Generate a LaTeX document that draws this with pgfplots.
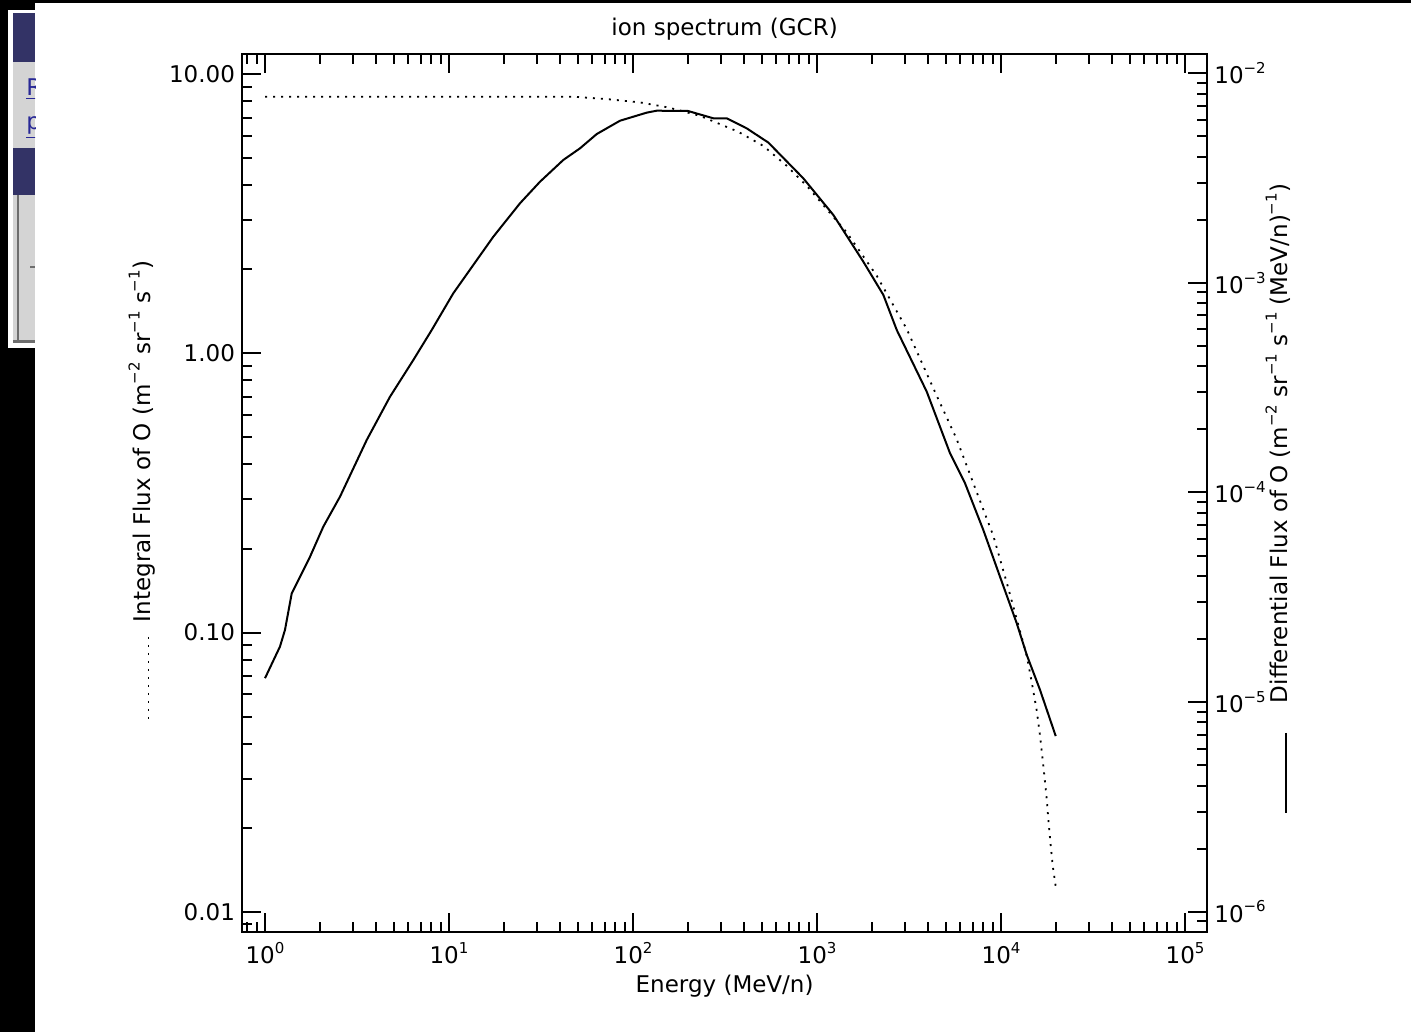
\documentclass[border=0pt]{standalone}
\usepackage{pgfplots}
\pgfplotsset{compat=1.18}
\usepackage{fontspec}
\setmainfont{DejaVu Sans}
\newcommand\sups[1]{\raisebox{0.45em}{\fontsize{7.5}{8}\selectfont #1}}
\definecolor{navy}{RGB}{51,51,102}
\definecolor{panel}{RGB}{212,212,212}
\definecolor{paneldark}{RGB}{110,110,110}
\definecolor{linkblue}{RGB}{40,40,150}

\pgfplotstableread{
E I
1 8.31
47.2 8.31
71.9 8.15
109 7.93
155 7.61
231 7.10
372 6.23
510 5.54
684 4.70
878 3.99
1449 2.714
2112 1.897
3073 1.222
4472 0.705
5741 0.493
7379 0.318
9082 0.222
10740 0.151
12170 0.1117
13795 0.0825
14690 0.0663
15640 0.0524
16290 0.0427
16980 0.0333
17720 0.0253
18070 0.02145
18620 0.01721
19100 0.01459
19820 0.01231
}\integral

\pgfplotstableread{
E D
1 1.30e-5
1.206 1.84e-5
1.284 2.21e-5
1.397 3.30e-5
1.757 4.94e-5
2.074 6.87e-5
2.556 9.55e-5
3.571 1.780e-4
4.779 2.864e-4
6.397 4.285e-4
8.054 5.96e-4
10.55 8.92e-4
13.55 1.217e-3
17.41 1.661e-3
24.32 2.399e-3
31.24 3.04e-3
41.8 3.86e-3
51.5 4.385e-3
63.5 5.13e-3
85.0 5.94e-3
118.7 6.49e-3
134.5 6.63e-3
199 6.61e-3
273 6.10e-3
323 6.10e-3
415 5.46e-3
544 4.67e-3
842 3.155e-3
1226 2.11e-3
1785 1.262e-3
2293 8.76e-4
2712 5.96e-4
3945 3.03e-4
5283 1.538e-4
6374 1.106e-4
8012 6.62e-5
9876 3.96e-5
12170 2.377e-5
13795 1.679e-5
16290 1.143e-5
19820 6.89e-6
}\differential

\begin{document}
\begin{tikzpicture}[x=0.5pt,y=0.5pt,font=\fontsize{11.5}{13.8}\selectfont]
\useasboundingbox (0,0) rectangle (1411,1032);
% screenshot surroundings
\fill[black] (0,0) rectangle (1411,1032);
\fill[white] (35,0) rectangle (1411,1029);
\fill[white] (8,684) rectangle (35,1022);
\fill[panel] (13,689) rectangle (35,1019);
\fill[navy] (13,970) rectangle (35,1019);
\fill[navy] (13,837) rectangle (35,884);
\fill[paneldark] (13,689) rectangle (35,692);
\fill[paneldark] (17,692) rectangle (19,837);
\begin{scope}
\clip (13,689) rectangle (35,1019);
\node[anchor=base west, text=linkblue, inner sep=0pt] at (26,936) {\underline{R}};
\node[anchor=base west, text=linkblue, inner sep=0pt] at (26,902) {\underline{p}};
\draw[paneldark, line width=0.8pt] (30,765) -- (35,765);
\end{scope}

\begin{axis}[
  at={(121pt,50pt)}, anchor=south west, scale only axis,
  width=482.65pt, height=439pt,
  xmode=log, ymode=log, log basis x=10, log basis y=10,
  xmin=0.75, xmax=1.3213e5, ymin=0.008459, ymax=11.82,
  axis line style={line width=1pt},
  tick style={line width=1pt, black},
  major tick length=9.5pt, minor tick length=5pt,
  tick align=inside,
  xtick={1,10,100,1000,10000,100000},
  xticklabels={10\sups{0},10\sups{1},10\sups{2},10\sups{3},10\sups{4},10\sups{5}},
  minor xtick={0.8,0.9,2,3,4,5,6,7,8,9,20,30,40,50,60,70,80,90,200,300,400,500,600,700,800,900,2000,3000,4000,5000,6000,7000,8000,9000,20000,30000,40000,50000,60000,70000,80000,90000},
  ytick={0.01,0.1,1,10}, yticklabels={0.01,0.10,1.00,10.00},
  minor ytick={0.009,0.02,0.03,0.04,0.05,0.06,0.07,0.08,0.09,0.2,0.3,0.4,0.5,0.6,0.7,0.8,0.9,2,3,4,5,6,7,8,9},
  xtick pos=both, ytick pos=left,
  xticklabel pos=bottom,
  xticklabel style={yshift=-1.5pt},
]
\addplot[black, line width=0.9pt, dash pattern=on 1pt off 3pt] table[x=E,y=I] {\integral};
\end{axis}

\begin{axis}[
  at={(121pt,50pt)}, anchor=south west, scale only axis,
  width=482.65pt, height=439pt,
  xmode=log, ymode=log, log basis x=10, log basis y=10,
  xmin=0.75, xmax=1.3213e5, ymin=8.0e-7, ymax=0.01236,
  hide x axis,
  axis line style={line width=1pt},
  tick style={line width=1pt, black},
  major tick length=9.5pt, minor tick length=5pt,
  tick align=inside,
  ytick={1e-6,1e-5,1e-4,1e-3,1e-2},
  yticklabels={10\sups{−6},10\sups{−5},10\sups{−4},10\sups{−3},10\sups{−2}},
  minor ytick={9e-7,2e-6,3e-6,4e-6,5e-6,6e-6,7e-6,8e-6,9e-6,2e-5,3e-5,4e-5,5e-5,6e-5,7e-5,8e-5,9e-5,2e-4,3e-4,4e-4,5e-4,6e-4,7e-4,8e-4,9e-4,2e-3,3e-3,4e-3,5e-3,6e-3,7e-3,8e-3,9e-3},
  ytick pos=right,
]
\addplot[black, line width=1pt] table[x=E,y=D] {\differential};
\end{axis}

% texts
\node[anchor=base] at (724.6,996) {ion spectrum (GCR)};
\node[anchor=base] at (724.6,40) {Energy (MeV/n)};
\node[rotate=90, anchor=base] at (150,590.5) {Integral Flux of O (m\sups{−2} sr\sups{−1} s\sups{−1})};
\draw[black, line width=0.9pt, dash pattern=on 1pt off 3pt] (148.5,395) -- (148.5,312);
\node[rotate=90, anchor=base] at (1287,588.5) {Differential Flux of O (m\sups{−2} sr\sups{−1} s\sups{−1} (MeV/n)\sups{−1})};
\draw[black, line width=1pt] (1286,299) -- (1286,219);
\end{tikzpicture}
\end{document}
